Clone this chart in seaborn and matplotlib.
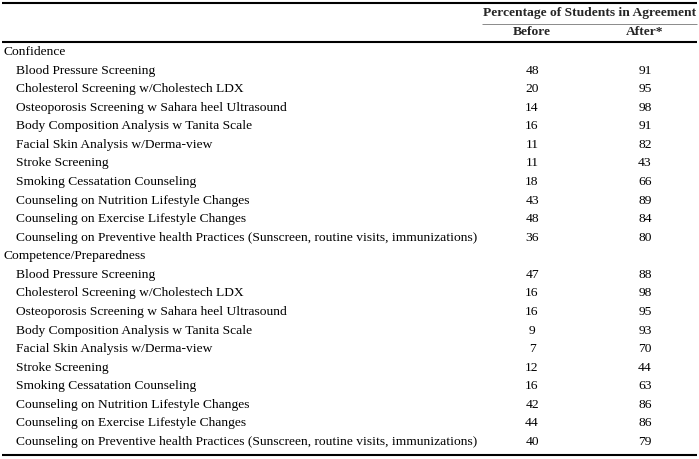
import numpy as np
import pandas as pd
import matplotlib
matplotlib.use("Agg")
import matplotlib.pyplot as plt
import seaborn as sns

groups = ["Confidence", "Competence/Preparedness"]
items = [
    "Blood Pressure Screening",
    "Cholesterol Screening w/Cholestech LDX",
    "Osteoporosis Screening w Sahara heel Ultrasound",
    "Body Composition Analysis w Tanita Scale",
    "Facial Skin Analysis w/Derma-view",
    "Stroke Screening",
    "Smoking Cessatation Counseling",
    "Counseling on Nutrition Lifestyle Changes",
    "Counseling on Exercise Lifestyle Changes",
    "Counseling on Preventive health Practices (Sunscreen, routine visits, immunizations)",
]
confidence_before = [48, 20, 14, 16, 11, 11, 18, 43, 48, 36]
confidence_after = [91, 95, 98, 91, 82, 43, 66, 89, 84, 80]
competence_before = [47, 16, 16, 9, 7, 12, 16, 42, 44, 40]
competence_after = [88, 98, 95, 93, 70, 44, 63, 86, 86, 79]

header = "Percentage of Students in Agreement"
col_labels = ["Before", "After*"]

sns.set_theme(style="white")
plt.rcParams['font.family'] = ['Liberation Serif', 'DejaVu Serif']

# build rows table
rows = []
for g, bef, aft in [(groups[0], confidence_before, confidence_after),
                    (groups[1], competence_before, competence_after)]:
    rows.append(dict(label=g, before="", after="", level=0))
    for it, b, a in zip(items, bef, aft):
        rows.append(dict(label=it, before=str(b), after=str(a), level=1))
df = pd.DataFrame(rows)

fig = plt.figure(figsize=(6.99, 4.59), dpi=100)
ax = fig.add_axes([0, 0, 1, 1])
ax.set_xlim(0, 699)
step = 18.57
ax.set_ylim((459 - 52) / step, -52 / step)
ax.axis("off")

fs = 9.7
xb, xa = 532, 645
for r, row in df.iterrows():
    x = 3 if row.level == 0 else 16
    ax.text(x, r, row.label, fontsize=fs, va="center", ha="left", color="black")
    ax.text(xb, r, row.before, fontsize=fs, va="center", ha="center", color="black")
    ax.text(xa, r, row.after, fontsize=fs, va="center", ha="center", color="black")

def py(p):
    return (p - 52) / step

ax.text(590, py(13), header, fontsize=fs, fontweight="bold", va="center", ha="center")
ax.text(xb, py(32), col_labels[0], fontsize=fs, fontweight="bold", va="center", ha="center")
ax.text(xa, py(32), col_labels[1], fontsize=fs, fontweight="bold", va="center", ha="center")

ax.plot([2, 697], [py(3), py(3)], color="black", lw=1.5, solid_capstyle="butt")
ax.plot([482, 697], [py(23.5), py(23.5)], color="#777777", lw=0.6, solid_capstyle="butt")
ax.plot([2, 697], [py(42), py(42)], color="black", lw=1.5, solid_capstyle="butt")
ax.plot([2, 697], [py(455), py(455)], color="black", lw=1.5, solid_capstyle="butt")

fig.savefig("out.png", dpi=100)
